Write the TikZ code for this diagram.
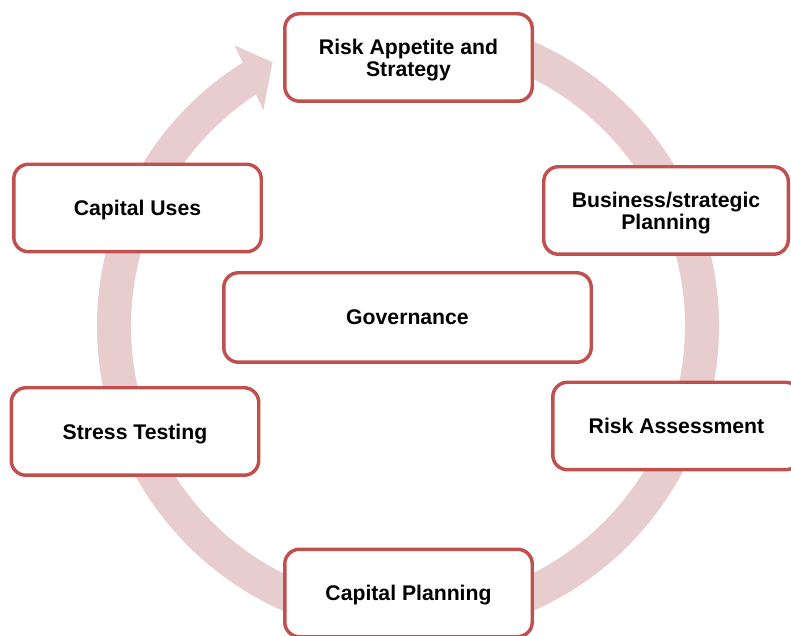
\documentclass[tikz,border=0pt]{standalone}
\usepackage{fontspec}
\setmainfont{Liberation Sans}
\definecolor{boxred}{RGB}{192,80,77}
\definecolor{ringpink}{RGB}{232,205,206}
\begin{document}
\begin{tikzpicture}[
        x=0.75pt, y=0.75pt,
        every node/.style={rectangle, rounded corners=11pt, draw=boxred, line width=2.6pt,
          fill=white, align=center, inner sep=0pt, text depth=0pt,
          minimum width=185.6pt, minimum height=65.6pt,
          font=\fontsize{15.9}{16.5}\selectfont\bfseries}
    ]
      \useasboundingbox (0,0) rectangle (791,635);

      % Кольцевая стрелка
      \begin{scope}[shift={(408,309)}]
        \fill[ringpink] (100:311) arc[start angle=100, end angle=-237.9, radius=311]
          -- (121.7:330) -- (117.2:296.5) -- (123.8:260) -- (123.3:277)
          arc[start angle=-236.7, end angle=100, radius=277] -- cycle;
      \end{scope}

      % Этапы цикла
      \node (risk) at (408.5,577.5) {Risk Appetite and\\Strategy};
      \node[minimum width=183.4pt] (business) at (666,424.5) {Business/strategic\\Planning};
      \node (assess) at (676.5,209) {Risk Assessment};
      \node (capplan) at (408.5,42) {Capital Planning};
      \node (stress) at (135,203.5) {Stress Testing};
      \node (capuses) at (137.5,427) {Capital Uses};

      % Центр
      \node[minimum width=275.6pt, minimum height=67.1pt] (gov) at (407.5,317.5) {Governance};
    \end{tikzpicture}
\end{document}
